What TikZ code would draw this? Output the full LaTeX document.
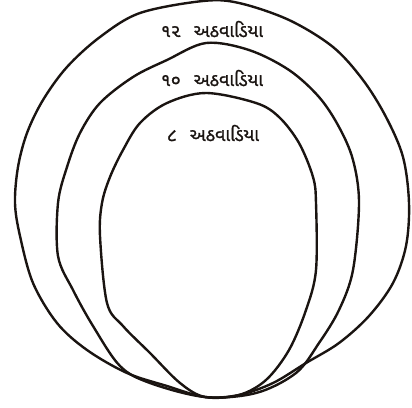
\documentclass[tikz,border=0pt]{standalone}
\usepackage{fontspec}
\newfontfamily\gujfont[Script=Gujarati,FakeBold=1.3]{Noto Sans Gujarati UI}
\definecolor{ink}{HTML}{1A1411}
\begin{document}
\begin{tikzpicture}[x=1pt,y=-1pt,
  ring/.style={draw=ink,line width=2.4pt,line join=round},
  lbl/.style={font=\gujfont\fontsize{18}{20}\selectfont,text=ink,inner sep=0pt,anchor=base}]
\useasboundingbox (0,0) rectangle (412,407);
% outer
\draw[ring] plot[smooth cycle,tension=0.55] coordinates {
 (203,1) (239,3) (289,20) (333,47) (363,80) (386,117) (403,157) (409,203)
 (406,246) (393,283) (369,316) (339,343) (306,363) (273,383) (239,395) (205,397)
 (167,386) (127,373) (87,350) (57,323) (33,283) (20,236) (15,203)
 (18,167) (27,133) (43,100) (67,67) (100,37) (140,13)};
% middle
\draw[ring] plot[smooth cycle,tension=0.55] coordinates {
 (206,43) (249,50) (289,70) (319,97) (339,127) (353,160) (359,203)
 (353,270) (339,310) (319,343) (296,373) (256,393) (205,397)
 (150,383) (120,366) (93,326) (73,290) (58,256) (58,203)
 (67,167) (80,133) (100,103) (133,77) (167,60)};
% inner
\draw[ring] plot[smooth cycle,tension=0.55] coordinates {
 (206,93) (256,103) (279,117) (299,143) (313,177) (316,203)
 (316,270) (306,310) (289,350) (266,380) (239,395) (205,397)
 (180,383) (150,353) (123,326) (107,303) (100,236) (102,203)
 (110,177) (123,150) (140,123) (167,103)};
\node[lbl] (w12) at (212,37) {૧૨\hspace{13pt}અઠવાડિયા};
\node[lbl] (w10) at (212,86) {૧૦\hspace{13pt}અઠવાડિયા};
\node[lbl] (w8) at (213,141) {૮\hspace{13pt}અઠવાડિયા};
\end{tikzpicture}
\end{document}
